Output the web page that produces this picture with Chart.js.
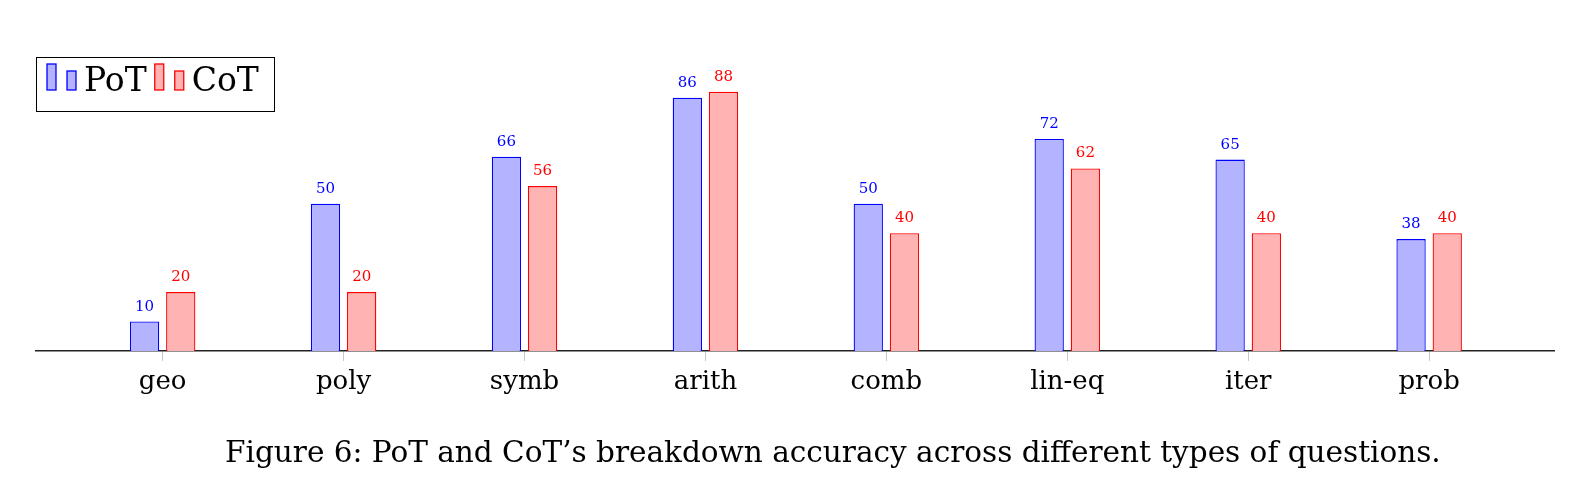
<!DOCTYPE html>
<html>
<head>
<meta charset="utf-8">
<script src="https://cdn.jsdelivr.net/npm/chart.js@4.4.0/dist/chart.umd.min.js"></script>
<style>
html, body { margin: 0; padding: 0; background: #fff; overflow: hidden; }
#wrap { position: relative; width: 1585px; height: 495px; }
#accChart { display: block; }
#caption {
    position: absolute; left: 225px; top: 435px;
    font-family: "DejaVu Serif", "Liberation Serif", serif;
    font-size: 29.5px; line-height: 35px; color: #000; white-space: nowrap;
}
</style>
</head>
<body>
<div id="wrap">
  <canvas id="accChart" width="1585" height="495"></canvas>
  <div id="caption"></div>
</div>
<script>
// question types and accuracies
const categories = ['geo', 'poly', 'symb', 'arith', 'comb', 'lin-eq', 'iter', 'prob'];
const potValues = [10, 50, 66, 86, 50, 72, 65, 38];
const cotValues = [20, 20, 56, 88, 40, 62, 40, 40];
const seriesNames = ['PoT', 'CoT'];
const captionText = 'Figure 6: PoT and CoT\u2019s breakdown accuracy across different types of questions.';

document.getElementById('caption').textContent = captionText;

const serif = '"DejaVu Serif", "Liberation Serif", serif';

// value labels above each bar
const valueLabels = {
    id: 'valueLabels',
    afterDatasetsDraw(chart) {
        const ctx = chart.ctx;
        ctx.save();
        ctx.font = '15px ' + serif;
        ctx.textAlign = 'center';
        ctx.textBaseline = 'alphabetic';
        chart.data.datasets.forEach((ds, i) => {
            const meta = chart.getDatasetMeta(i);
            ctx.fillStyle = ds.borderColor;
            meta.data.forEach((bar, j) => {
                ctx.fillText(String(ds.data[j].y), bar.x, bar.y - 11);
            });
        });
        ctx.restore();
    }
};

// pgfplots style legend: two little bars per series
const barLegend = {
    id: 'barLegend',
    afterDraw(chart) {
        const ctx = chart.ctx;
        ctx.save();
        ctx.fillStyle = '#fff';
        ctx.fillRect(36.5, 57.5, 238, 54);
        ctx.strokeStyle = '#000';
        ctx.lineWidth = 1;
        ctx.strokeRect(36.5, 57.5, 238, 54);
        ctx.font = '33px ' + serif;
        ctx.textBaseline = 'alphabetic';
        let x = 47;
        chart.data.datasets.forEach(ds => {
            ctx.fillStyle = ds.backgroundColor;
            ctx.strokeStyle = ds.borderColor;
            ctx.lineWidth = 1.3;
            ctx.fillRect(x, 64, 9, 26);
            ctx.strokeRect(x, 64, 9, 26);
            ctx.fillRect(x + 20, 71, 9, 19);
            ctx.strokeRect(x + 20, 71, 9, 19);
            ctx.fillStyle = '#000';
            ctx.fillText(ds.label, x + 37, 91);
            x += 37 + ctx.measureText(ds.label).width + 8;
        });
        ctx.restore();
    }
};

const ctx = document.getElementById('accChart').getContext('2d');
new Chart(ctx, {
    type: 'bar',
    data: {
        datasets: [{
            label: seriesNames[0],
            data: potValues.map((v, i) => ({ x: i, y: v })),
            backgroundColor: 'rgb(179,179,255)',
            borderColor: '#0000ff',
            borderWidth: 1.3
        }, {
            label: seriesNames[1],
            data: cotValues.map((v, i) => ({ x: i, y: v })),
            backgroundColor: 'rgb(255,179,179)',
            borderColor: '#ff0000',
            borderWidth: 1.3
        }]
    },
    options: {
        responsive: false,
        animation: false,
        categoryPercentage: 0.4,
        barPercentage: 0.81,
        layout: { padding: { left: 36, right: 31, top: 30, bottom: 57 } },
        plugins: {
            legend: { display: false },
            tooltip: { enabled: false },
            title: { display: false }
        },
        scales: {
            x: {
                type: 'linear',
                offset: false,
                min: -0.7,
                max: 7.69,
                afterBuildTicks: s => { s.ticks = categories.map((c, i) => ({ value: i })); },
                afterFit: s => {
                    s.height = 87;
                    s.paddingLeft = 0;
                    s.paddingRight = 0;
                },
                ticks: {
                    callback: v => categories[v],
                    color: '#000',
                    font: { family: serif, size: 26 },
                    padding: 6,
                    maxRotation: 0,
                    autoSkip: false
                },
                grid: { offset: false, drawOnChartArea: false, drawTicks: true, tickLength: 10, color: '#c8c8c8' },
                border: { display: true, color: '#222', width: 1.5 }
            },
            y: {
                display: false,
                min: 0,
                max: 109
            }
        }
    },
    plugins: [valueLabels, barLegend]
});
</script>
</body>
</html>
